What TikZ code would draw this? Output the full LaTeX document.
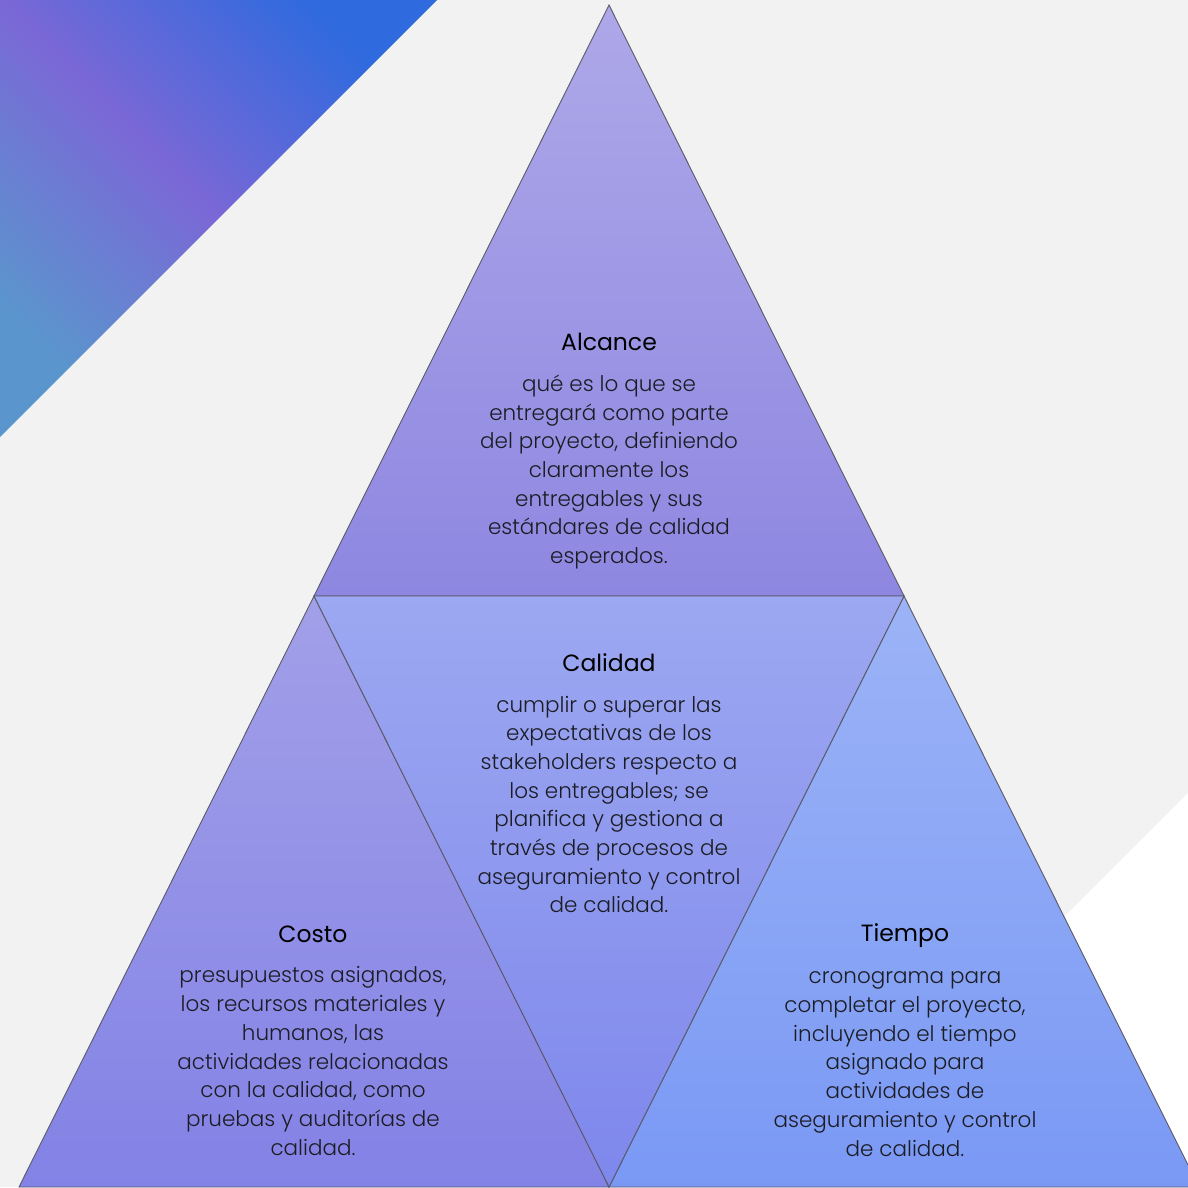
\documentclass[tikz,border=0pt]{standalone}
\usepackage{fontspec}
\IfFontExistsTF{Poppins Light}{\setmainfont{Poppins Light}}{\setmainfont{Poppins}}
\newfontfamily\ttlfont{Poppins}
\definecolor{bggray}{HTML}{F2F2F2}
\definecolor{gA}{HTML}{5A96CD}
\definecolor{gB}{HTML}{7A68D6}
\definecolor{gC}{HTML}{2F6ADE}
\definecolor{alcT}{HTML}{AEA8E9}
\definecolor{alcB}{HTML}{8E87E1}
\definecolor{calT}{HTML}{9CA8F1}
\definecolor{calB}{HTML}{7E87EC}
\definecolor{cosT}{HTML}{A2A0E8}
\definecolor{cosB}{HTML}{8382E6}
\definecolor{tieT}{HTML}{9CB3F6}
\definecolor{tieB}{HTML}{7A99F5}
\definecolor{edge}{HTML}{5A5A6A}
\definecolor{bodytxt}{HTML}{1C1C24}
\tikzset{
  tri/.style={draw=edge, line width=0.9pt, line join=miter},
  ttl/.style={font=\ttlfont\fontsize{23.5}{28}\selectfont, text=black, inner sep=0pt},
  bodyt/.style={font=\fontsize{21.5}{28.7}\selectfont, text=bodytxt, align=center, inner sep=0pt}
}
\begin{document}
\begin{tikzpicture}[x=1pt,y=-1pt]
\useasboundingbox (0,0) rectangle (1188,1187);
\clip (0,0) rectangle (1188,1187);
\fill[bggray] (0,0) rectangle (1188,1187);
\fill[white] (1188,793) -- (1188,1187) -- (794,1187) -- cycle;
\shade[left color=gC, right color=gA, middle color=gB, shading angle=-45]
  (0,0) -- (437,0) -- (0,437) -- cycle;
% coordinates
\coordinate (apex) at (609,5);
\coordinate (ml) at (314,596);
\coordinate (mr) at (904,596);
\coordinate (bl) at (19,1187);
\coordinate (bm) at (609,1187);
\coordinate (br) at (1199,1187);
% triangles
\shade[tri, top color=alcT, bottom color=alcB] (apex) -- (mr) -- (ml) -- cycle;
\shade[tri, top color=cosT, bottom color=cosB] (ml) -- (bm) -- (bl) -- cycle;
\shade[tri, top color=tieT, bottom color=tieB] (mr) -- (br) -- (bm) -- cycle;
\shade[tri, top color=calT, bottom color=calB] (ml) -- (mr) -- (bm) -- cycle;
% texts
\node[ttl] (alcT) at (609,342) {Alcance};
\node[bodyt] (alcB) at (609,472) {qué es lo que se\\entregará como parte\\del proyecto, definiendo\\claramente los\\entregables y sus\\estándares de calidad\\esperados.};
\node[ttl] (calT) at (609,663) {Calidad};
\node[bodyt] (calB) at (609,804.5) {cumplir o superar las\\expectativas de los\\stakeholders respecto a\\los entregables; se\\planifica y gestiona a\\través de procesos de\\aseguramiento y control\\de calidad.};
\node[ttl] (cosT) at (313,934) {Costo};
\node[bodyt] (cosB) at (313,1061) {presupuestos asignados,\\los recursos materiales y\\humanos, las\\actividades relacionadas\\con la calidad, como\\pruebas y auditorías de\\calidad.};
\node[ttl] (tieT) at (905,935.5) {Tiempo};
\node[bodyt] (tieB) at (905,1064) {cronograma para\\completar el proyecto,\\incluyendo el tiempo\\asignado para\\actividades de\\aseguramiento y control\\de calidad.};
\end{tikzpicture}
\end{document}
